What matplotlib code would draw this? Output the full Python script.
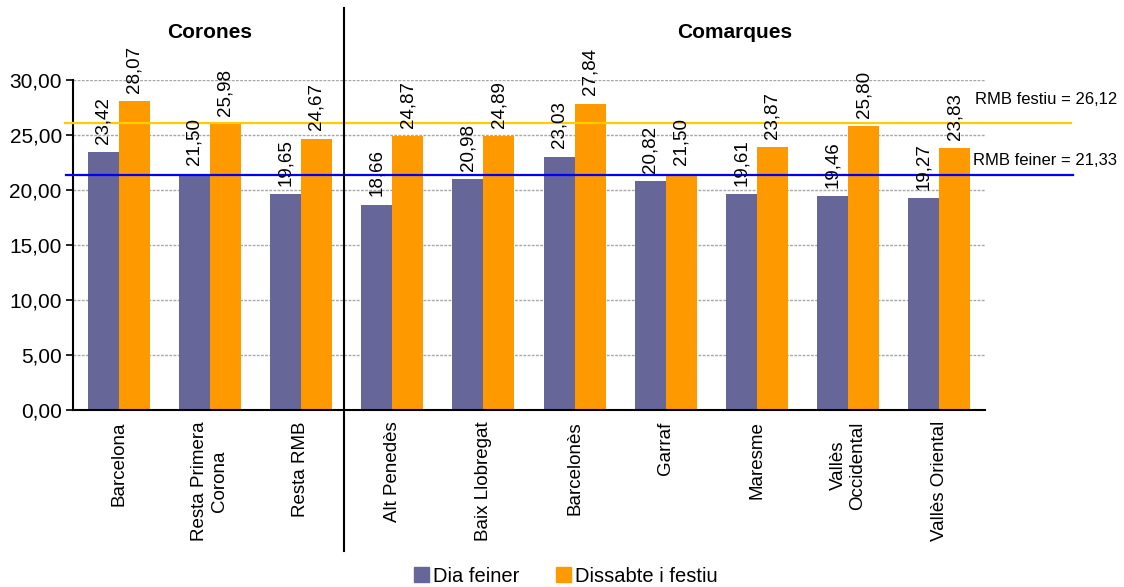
import matplotlib
matplotlib.use('Agg')
import matplotlib.pyplot as plt
import numpy as np
from matplotlib.patches import Patch
from matplotlib.ticker import FuncFormatter

plt.rcParams['font.family'] = ['Liberation Sans', 'DejaVu Sans']

categories = ['Barcelona', 'Resta Primera\nCorona', 'Resta RMB', 'Alt Penedès',
              'Baix Llobregat', 'Barcelonès', 'Garraf', 'Maresme',
              'Vallès\nOccidental', 'Vallès Oriental']
dia_feiner = [23.42, 21.50, 19.65, 18.66, 20.98, 23.03, 20.82, 19.61, 19.46, 19.27]
dissabte_festiu = [28.07, 25.98, 24.67, 24.87, 24.89, 27.84, 21.50, 23.87, 25.80, 23.83]
rmb_feiner = 21.33
rmb_festiu = 26.12
n_corones = 3

PURPLE = '#666699'
ORANGE = '#FF9900'

fig = plt.figure(figsize=(11.24, 5.87), dpi=100)
ax = fig.add_axes([0.0649, 0.3015, 0.8114, 0.5622])

x = np.arange(len(categories))
w = 0.34
b1 = ax.bar(x - w / 2, dia_feiner, w, color=PURPLE, zorder=2)
b2 = ax.bar(x + w / 2, dissabte_festiu, w, color=ORANGE, zorder=2)

fmt = lambda v: f'{v:.2f}'.replace('.', ',')
for bars, vals in ((b1, dia_feiner), (b2, dissabte_festiu)):
    for r, v in zip(bars, vals):
        ax.annotate(fmt(v), (r.get_x() + r.get_width() / 2, v),
                    xytext=(0, 6), textcoords='offset points',
                    rotation=90, ha='center', va='bottom', fontsize=13.5,
                    annotation_clip=False, zorder=4)

# reference lines
ax.axhline(rmb_festiu, xmin=-0.009, xmax=1.094, color='#FFCC00', lw=1.6,
           clip_on=False, zorder=3)
ax.axhline(rmb_feiner, xmin=-0.008, xmax=1.096, color='#0000FF', lw=1.6,
           clip_on=False, zorder=3)
ax.annotate('RMB festiu = ' + fmt(rmb_festiu), (1.1447, rmb_festiu),
            xycoords=('axes fraction', 'data'), xytext=(0, 17),
            textcoords='offset points', ha='right', va='center', fontsize=12)
ax.annotate('RMB feiner = ' + fmt(rmb_feiner), (1.1447, rmb_feiner),
            xycoords=('axes fraction', 'data'), xytext=(0, 11),
            textcoords='offset points', ha='right', va='center', fontsize=12)

# separator between groups
ax.plot([n_corones - 0.5 - 0.03] * 2, [-0.427, 1.218], color='black', lw=1.5,
        transform=ax.get_xaxis_transform(), clip_on=False, zorder=5)

ax.set_xlim(-0.5, len(categories) - 0.5)
ax.set_ylim(0, 30)
ax.set_yticks(np.arange(0, 31, 5))
ax.yaxis.set_major_formatter(FuncFormatter(lambda v, p: fmt(v)))
ax.set_xticks(x)
ax.set_xticklabels(categories, rotation=90, ha='center', va='top',
                   multialignment='center', fontsize=13.5)
ax.tick_params(axis='x', length=0, pad=8)
ax.tick_params(axis='y', length=5, width=1.2, pad=3, labelsize=15)
ax.grid(axis='y', color='#A8A8A8', linestyle=(0, (2, 1)), lw=1, zorder=0)
ax.set_axisbelow(True)
for s in ('top', 'right'):
    ax.spines[s].set_visible(False)
ax.spines['left'].set_linewidth(1.5)
ax.spines['bottom'].set_linewidth(1.5)

fig.text(210 / 1124, 1 - 33 / 587, 'Corones', ha='center', va='center',
         fontsize=15, fontweight='bold')
fig.text(735 / 1124, 1 - 33 / 587, 'Comarques', ha='center', va='center',
         fontsize=15, fontweight='bold')

handles = [Patch(color=PURPLE, label='Dia feiner'),
           Patch(color=ORANGE, label='Dissabte i festiu')]
fig.legend(handles=handles, loc='center', bbox_to_anchor=(566 / 1124, 1 - 576 / 587),
           ncol=2, frameon=False, fontsize=14.5, handlelength=0.75,
           handleheight=0.75, handletextpad=0.2, columnspacing=1.8)

fig.savefig('out.png', dpi=100)
